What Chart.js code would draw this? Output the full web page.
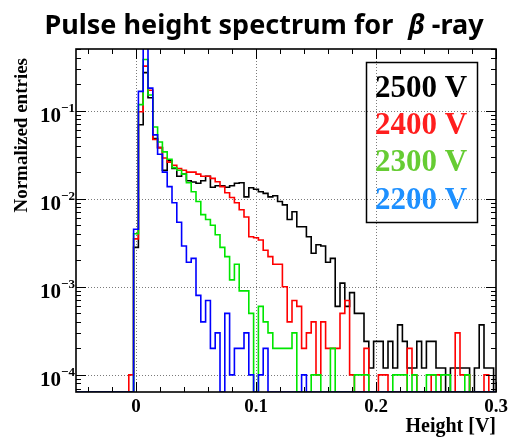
<!DOCTYPE html>
<html>
<head>
<meta charset="utf-8">
<script src="https://cdn.jsdelivr.net/npm/chart.js@4"></script>
<style>
  body { margin: 0; background: #fff; }
  #wrap { width: 510px; height: 441px; }
</style>
</head>
<body>
<div id="wrap"><canvas id="chart" width="510" height="441"></canvas></div>
<script>
// histogram binning (V): first value is the bin starting at -0.006
const binStart = -0.006;
const binWidth = 0.004;

const seriesNames = ['2500 V', '2400 V', '2300 V', '2200 V'];
const lineColors = ['#000000', '#ff0000', '#00e600', '#0000ff'];
const legendColors = ['#000000', '#ff1e1e', '#66cc33', '#1e90ff'];

// normalized entries per bin (0 = empty bin)
const v2500 = [0, 0.0028, 0.069, 0.27, 0.14, 0.048, 0.038, 0.021, 0.027, 0.022,
  0.018, 0.019, 0.016, 0.0155, 0.015, 0.016, 0.018, 0.0135, 0.014, 0.014,
  0.0135, 0.014, 0.015, 0.0152, 0.0105, 0.0133, 0.0128, 0.012, 0.0115, 0.0105,
  0.0108, 0.0093, 0.0085, 0.0058, 0.0071, 0.0048, 0.0048, 0.0037, 0.0024, 0.003,
  0.0029, 0.0019, 0.0021, 0.0006, 0.0011, 0.0006, 0.00086, 0.0005, 0.0005, 0.00024,
  0.00012, 0.00024, 0.00024, 0.00012, 0.00024, 0.00012, 0.00037, 0.00024, 0.00012, 0.00012,
  0.00024, 0.00012, 0.00024, 0.00024, 0.00012, 0.00012, 0, 0.00012, 0.00012, 0.00012,
  0.00012, 0, 0.00012, 0.00037, 0.00012, 0.00012, 0];
const v2400 = [0.0001, 0.0035, 0.097, 0.32, 0.17, 0.047, 0.038, 0.029, 0.026, 0.024,
  0.022, 0.021, 0.02, 0.02, 0.019, 0.018, 0.018, 0.017, 0.0156, 0.0137,
  0.0117, 0.0103, 0.009, 0.0075, 0.0062, 0.0037, 0.0036, 0.0034, 0.0026, 0.0022,
  0.0018, 0.0018, 0.001, 0.0004, 0.0007, 0.0006, 0.0002, 0.0003, 0.0004, 0.0001,
  0.0004, 0.0002, 0.0002, 0.0002, 0.0005, 0.0007, 0.0001, 0, 0, 0.0002,
  0, 0, 0.0001, 0.0001, 0, 0, 0, 0, 0.0002, 0.0001,
  0, 0, 0, 0.0001, 0.0001, 0, 0, 0, 0.0003, 0.0001,
  0.0001, 0, 0, 0, 0.0001, 0, 0];
const v2300 = [0, 0.004, 0.117, 0.38, 0.15, 0.065, 0.044, 0.034, 0.028, 0.0225,
  0.021, 0.019, 0.0152, 0.012, 0.0093, 0.0066, 0.0058, 0.005, 0.0039, 0.0028,
  0.0022, 0.0012, 0.0018, 0.0009, 0.0009, 0.0005, 0, 0.0006, 0.0004, 0.0003,
  0.0002, 0.0002, 0.0002, 0.0002, 0.0003, 0, 0, 0, 0.0001, 0.0001,
  0, 0, 0.0002, 0, 0, 0, 0, 0.0001, 0.0001, 0.0001,
  0, 0, 0, 0, 0, 0.0001, 0.0001, 0.0001, 0, 0.0001,
  0, 0, 0.0001, 0.0001, 0, 0.0001, 0.0001, 0, 0, 0,
  0.0001, 0, 0, 0, 0, 0, 0];
const v2200 = [0, 0.0045, 0.165, 0.55, 0.18, 0.053, 0.032, 0.02, 0.0137, 0.009,
  0.0054, 0.0029, 0.0019, 0.0021, 0.0008, 0.0004, 0.0007, 0.0002, 0.0003, 0,
  0.0005, 0.0001, 0.0002, 0.0002, 0.0003, 0.0001, 0, 0.0001, 0.0002, 0,
  0, 0, 0, 0, 0, 0, 0.0001, 0, 0, 0,
  0, 0, 0, 0, 0, 0, 0, 0, 0, 0,
  0, 0, 0, 0, 0, 0, 0, 0, 0, 0,
  0, 0, 0, 0, 0, 0, 0, 0, 0, 0,
  0, 0, 0, 0, 0, 0, 0];

const xMin = -0.05, xMax = 0.3;
const yMin = 6.4e-5, yMax = 0.5;
const xTicks = [0, 0.1, 0.2, 0.3];
const xTickLabels = ['0', '0.1', '0.2', '0.3'];
const yDecades = [-1, -2, -3, -4];

// step points: value of point i is held until the next edge
function toSteps(values) {
    const pts = [{ x: xMin, y: yMin }];
    values.forEach((v, i) => {
        pts.push({ x: binStart + i * binWidth, y: v > 0 ? v : yMin });
    });
    pts.push({ x: binStart + values.length * binWidth, y: yMin });
    return pts;
}

const allValues = [v2500, v2400, v2300, v2200];

// ROOT-like frame, ticks, labels and legend
const rootFrame = {
    id: 'rootFrame',
    beforeDatasetsDraw(chart) {
        const { ctx, chartArea: a, scales: { x, y } } = chart;
        ctx.save();
        ctx.strokeStyle = '#7a7a7a';
        ctx.lineWidth = 1;
        ctx.setLineDash([1, 2]);
        ctx.beginPath();
        xTicks.forEach(v => {
            const px = Math.round(x.getPixelForValue(v)) + 0.5;
            if (px < a.right - 2) { ctx.moveTo(px, a.top); ctx.lineTo(px, a.bottom); }
        });
        yDecades.forEach(e => {
            const py = Math.round(y.getPixelForValue(Math.pow(10, e))) + 0.5;
            ctx.moveTo(a.left, py); ctx.lineTo(a.right, py);
        });
        ctx.stroke();
        ctx.restore();
    },
    afterDatasetsDraw(chart) {
        const { ctx, chartArea: a, scales: { x, y } } = chart;
        ctx.save();
        ctx.strokeStyle = '#000';
        ctx.lineWidth = 1;
        ctx.beginPath();
        // x ticks, top and bottom, pointing inwards
        for (let i = -2; i <= 15; i++) {
            const v = i * 0.02;
            if (v <= xMin || v > xMax + 1e-9) continue;
            const px = Math.round(x.getPixelForValue(v)) + 0.5;
            const len = (i % 5 === 0) ? 10 : 5;
            ctx.moveTo(px, a.bottom); ctx.lineTo(px, a.bottom - len);
            ctx.moveTo(px, a.top); ctx.lineTo(px, a.top + len);
        }
        // y ticks, left and right
        for (let d = -5; d <= -1; d++) {
            for (let m = 1; m <= 9; m++) {
                const v = m * Math.pow(10, d);
                if (v < yMin || v > yMax) continue;
                const py = Math.round(y.getPixelForValue(v)) + 0.5;
                const len = m === 1 ? 10 : 5;
                ctx.moveTo(a.left, py); ctx.lineTo(a.left + len, py);
                ctx.moveTo(a.right, py); ctx.lineTo(a.right - len, py);
            }
        }
        ctx.stroke();
        ctx.lineWidth = 1.6;
        ctx.strokeRect(a.left, a.top, a.right - a.left, a.bottom - a.top);

        ctx.fillStyle = '#000';
        // x tick labels
        ctx.font = 'bold 19px "Liberation Serif"';
        ctx.textAlign = 'center';
        ctx.textBaseline = 'alphabetic';
        xTicks.forEach((v, i) => {
            ctx.fillText(xTickLabels[i], x.getPixelForValue(v), a.bottom + 20);
        });
        // y tick labels 10^n
        yDecades.forEach(e => {
            const py = y.getPixelForValue(Math.pow(10, e));
            ctx.font = 'bold 21px "Liberation Serif"';
            ctx.textAlign = 'right';
            ctx.fillText('10', a.left - 15, py + 11);
            ctx.font = 'bold 13px "Liberation Serif"';
            ctx.textAlign = 'left';
            ctx.fillText('\u2212' + (-e), a.left - 15, py + 1);
        });
        // axis titles
        ctx.font = 'bold 20px "Liberation Serif"';
        ctx.textAlign = 'right';
        ctx.fillText('Height [V]', a.right, a.bottom + 40);
        ctx.save();
        ctx.translate(22, a.top + 9);
        ctx.rotate(-Math.PI / 2);
        ctx.font = 'bold 19px "Liberation Serif"';
        ctx.textAlign = 'right';
        ctx.textBaseline = 'middle';
        ctx.fillText('Normalized entries', 0, 0);
        ctx.restore();

        // legend box
        ctx.lineWidth = 1.5;
        ctx.strokeRect(366.5, 62.5, 111, 160);
        ctx.font = 'bold 31px "Liberation Serif"';
        ctx.textAlign = 'left';
        seriesNames.forEach((name, i) => {
            ctx.fillStyle = legendColors[i];
            ctx.fillText(name, 375, 97 + i * 37.2);
        });

        // title with italic beta
        const p1 = 'Pulse height spectrum for ', p2 = '\u03b2', p3 = ' -ray';
        ctx.fillStyle = '#000';
        ctx.font = 'bold 27px "Noto Sans"';
        const w1 = ctx.measureText(p1).width, w3 = ctx.measureText(p3).width;
        ctx.font = 'bold italic 27px "Noto Sans"';
        const w2 = ctx.measureText(p2).width;
        const gap = 8;
        let tx = 264 - (w1 + gap + w2 + w3) / 2;
        ctx.font = 'bold 27px "Noto Sans"';
        ctx.fillText(p1, tx, 34);
        ctx.font = 'bold italic 27px "Noto Sans"';
        ctx.fillText(p2, tx + w1 + gap, 34);
        ctx.font = 'bold 27px "Noto Sans"';
        ctx.fillText(p3, tx + w1 + gap + w2, 34);
        ctx.restore();
    }
};

// blue first so it is drawn on top
const order = [3, 2, 1, 0];
new Chart(document.getElementById('chart'), {
    type: 'line',
    data: {
        datasets: order.map(i => ({
            label: seriesNames[i],
            data: toSteps(allValues[i]),
            borderColor: lineColors[i],
            borderWidth: 1.6,
            stepped: true,
            fill: false,
            pointRadius: 0
        }))
    },
    options: {
        responsive: false,
        animation: false,
        devicePixelRatio: 1,
        layout: { padding: { left: 76, right: 14, top: 49, bottom: 49 } },
        plugins: { legend: { display: false }, tooltip: { enabled: false } },
        scales: {
            x: { type: 'linear', min: xMin, max: xMax, display: false },
            y: { type: 'logarithmic', min: yMin, max: yMax, display: false }
        }
    },
    plugins: [rootFrame]
});
</script>
</body>
</html>
